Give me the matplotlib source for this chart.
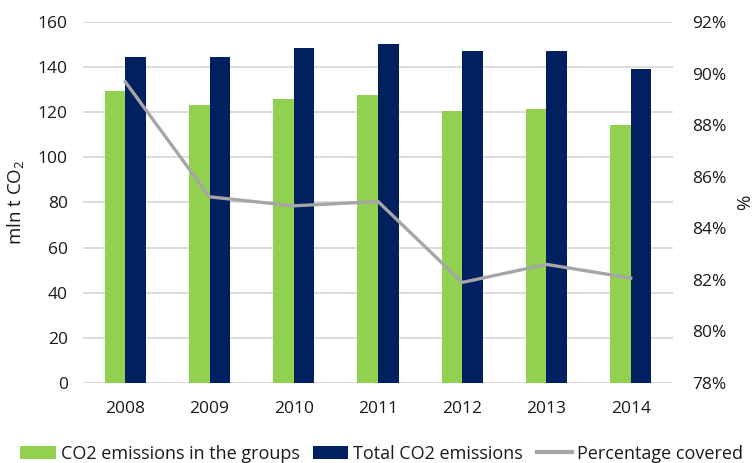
import matplotlib
matplotlib.use("Agg")
import matplotlib.pyplot as plt
import numpy as np
from matplotlib.patches import Patch
from matplotlib.lines import Line2D
from matplotlib.ticker import FuncFormatter

plt.rcParams['font.family'] = ['Open Sans', 'DejaVu Sans']
plt.rcParams['mathtext.fontset'] = 'custom'
plt.rcParams['mathtext.rm'] = 'Open Sans'
plt.rcParams['mathtext.it'] = 'Open Sans'

years = ["2008", "2009", "2010", "2011", "2012", "2013", "2014"]
group_emissions = [129.4, 123.0, 125.9, 127.8, 120.6, 121.5, 114.2]
total_emissions = [144.4, 144.4, 148.6, 150.1, 147.2, 147.2, 139.0]
pct_covered = [89.68, 85.22, 84.87, 85.04, 81.90, 82.60, 82.07]

GREEN = "#92d050"
NAVY = "#002060"
GREY = "#a6a6a6"
TEXT = "#1a1a1a"

fig = plt.figure(figsize=(7.56, 4.63), dpi=100)
ax = fig.add_axes([0.110, 0.1728, 0.780, 0.7797])
x = np.arange(len(years))
w = 0.244

ax.bar(x - w / 2, group_emissions, w, color=GREEN, zorder=2)
ax.bar(x + w / 2, total_emissions, w, color=NAVY, zorder=2)
ax.set_ylim(0, 160)
ax.set_xlim(-0.5, len(years) - 0.5)
ax.set_yticks(np.arange(0, 161, 20))
ax.set_xticks(x)
ax.set_xticklabels(years)
ax.yaxis.grid(True, color="#d9d9d9", linewidth=1.3, zorder=0)
ax.set_axisbelow(True)
for s in ax.spines.values():
    s.set_visible(False)
ax.tick_params(axis="both", length=0, labelsize=12.5, colors=TEXT)
ax.tick_params(axis="y", pad=11)
ax.tick_params(axis="x", pad=13)

ax2 = ax.twinx()
ax2.plot(x, pct_covered, color=GREY, linewidth=2.4, zorder=3)
ax2.set_ylim(78, 92)
ax2.set_yticks(np.arange(78, 92.1, 2))
ax2.yaxis.set_major_formatter(FuncFormatter(lambda v, p: f"{v:.0f}%"))
for s in ax2.spines.values():
    s.set_visible(False)
ax2.tick_params(axis="y", length=0, labelsize=12.5, colors=TEXT, pad=14)

# Axis titles on both sides, centred on the plot height
mid_y = 0.1728 + 0.7797 / 2
fig.text(0.020, mid_y, "mln t CO$_2$", rotation=90, ha="center", va="center",
         fontsize=13.5, color=TEXT)
fig.text(0.986, mid_y, "%", rotation=90, ha="center", va="center",
         fontsize=13.5, color=TEXT)

handles = [
    Patch(facecolor=GREEN, edgecolor="none"),
    Patch(facecolor=NAVY, edgecolor="none"),
    Line2D([0], [0], color=GREY, linewidth=3),
]
labels = ["CO2 emissions in the groups", "Total CO2 emissions", "Percentage covered"]
fig.legend(handles, labels, loc="center left", bbox_to_anchor=(0.027, 0.02),
           ncol=3, frameon=False, fontsize=13, handlelength=1.95, handleheight=0.7,
           handletextpad=0.28, columnspacing=0.75, labelcolor=TEXT,
           borderpad=0, borderaxespad=0)

fig.savefig("out.png", dpi=100)
